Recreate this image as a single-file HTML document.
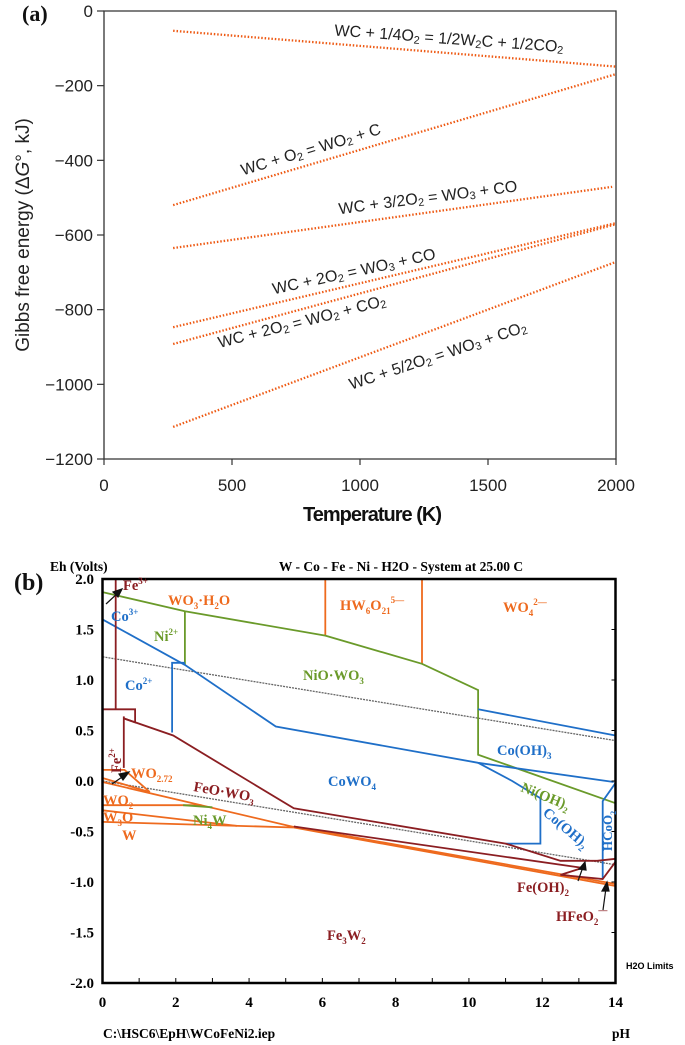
<!DOCTYPE html>
<html><head><meta charset="utf-8"><style>
html,body{margin:0;padding:0;background:#fff;}
svg{display:block;}
.sa{font-family:"Liberation Sans",sans-serif;}
.sb{font-family:"Liberation Serif",serif;font-weight:bold;}
</style></head><body>
<svg id="fig" width="685" height="1045" viewBox="0 0 685 1045" xmlns="http://www.w3.org/2000/svg">
  <g id="panelA"></g>
  <g id="panelB"></g>
</svg>
<script>
// ---------- Panel (a) data ----------
const reactionNames = ["WC + 1/4O2 = 1/2W2C + 1/2CO2","WC + O2 = WO2 + C","WC + 3/2O2 = WO3 + CO","WC + 2O2 = WO3 + CO","WC + 2O2 = WO2 + CO2","WC + 5/2O2 = WO3 + CO2"];
const startT = [270, 270, 270, 270, 270, 270];
const endT = [2000, 2000, 1985, 2000, 2000, 2000];
const startG = [-53, -520, -635, -847, -892, -1114];
const endG = [-149, -169, -471, -568, -571, -672];
const xTicksA = [0, 500, 1000, 1500, 2000];
const yTicksA = [0, -200, -400, -600, -800, -1000, -1200];

// ---------- Panel (b) data ----------
const xTicksB = [0, 2, 4, 6, 8, 10, 12, 14];
const yTicksB = [2.0, 1.5, 1.0, 0.5, 0.0, -0.5, -1.0, -1.5, -2.0];
const h2oUpper = [[0, 1.23], [14, 0.40]];
const h2oLower = [[0, 0.0], [14, -0.83]];
const feLines = [
  [[0.36, 2.0], [0.36, 0.71]],
  [[0, 0.71], [0.89, 0.71], [0.89, 0.58], [0.58, 0.62]],
  [[0.58, 0.64], [0.58, 0.13]],
  [[0.58, 0.62], [1.93, 0.45], [5.22, -0.27], [11.0, -0.62], [12.5, -0.79], [13.5, -0.79], [14, -0.77]],
  [[5.22, -0.45], [13.1, -0.86], [12.5, -0.93], [13.65, -0.97], [14, -0.8]]
];
const wLines = [
  [[6.08, 2.0], [6.08, 1.44]],
  [[8.72, 2.0], [8.72, 1.16]],
  [[0, 0.11], [0.6, 0.11], [1.29, -0.11]],
  [[0, 0.03], [1.29, -0.11]],
  [[0, -0.01], [5.22, -0.455]],
  [[0, -0.24], [2.7, -0.24]],
  [[0, -0.29], [3.67, -0.445]],
  [[0, -0.405], [5.22, -0.46]],
  [[5.22, -0.46], [14, -1.04]],
  [[5.22, -0.45], [14, -1.02]]
];
const niLines = [
  [[0, 1.87], [2.25, 1.68], [6.08, 1.44], [8.72, 1.16], [10.25, 0.90], [10.25, 0.26], [14, -0.22]],
  [[2.25, 1.68], [2.25, 1.15]],
  [[2.2, -0.24], [3.0, -0.26]]
];
const coLines = [
  [[0, 1.6], [2.25, 1.15], [4.73, 0.54], [10.25, 0.18], [13.95, -0.01]],
  [[2.25, 1.17], [1.9, 1.17], [1.9, 0.48]],
  [[10.25, 0.71], [14, 0.45]],
  [[10.25, 0.18], [11.18, 0.0], [11.95, -0.17], [11.95, -0.62], [11.0, -0.62]],
  [[13.65, -0.97], [13.65, -0.2], [14, -0.02]]
];

const NS = "http://www.w3.org/2000/svg";
function mk(parent, tag, attrs, text) {
  const e = document.createElementNS(NS, tag);
  for (const k in attrs) e.setAttribute(k, attrs[k]);
  if (text !== undefined) e.textContent = text;
  parent.appendChild(e);
  return e;
}

// ---------- Panel (a) ----------
const A = document.getElementById("panelA");
const ax0 = 104, ax1 = 616, ay0 = 11, ay1 = 459;
function xA(t) { return ax0 + (t / 2000) * (ax1 - ax0); }
function yA(g) { return ay0 + (-g / 1200) * (ay1 - ay0); }

let fr = mk(A, "path", {d:`M${ax0},${ay0} H${ax1} V${ay1} H${ax0} Z`, fill:"none", stroke:"#333", "stroke-width":1.3});


xTicksA.forEach(v => {
  const x = xA(v);
  let t = mk(A, "line", {x1:x, x2:x, y1:ay1, y2:ay1 + 6, stroke:"#333", "stroke-width":1.2});
  
  
  let l = mk(A, "text", {x:x, y:ay1 + 32, "text-anchor":"middle", "font-size":17, fill:"#222", class:"sa"}, String(v));
  
  
});
yTicksA.forEach(v => {
  const y = yA(v);
  let t = mk(A, "line", {x1:ax0 - 7, x2:ax0, y1:y, y2:y, stroke:"#333", "stroke-width":1.2});
  
  
  let l = mk(A, "text", {x:ax0 - 11, y:y + 6, "text-anchor":"end", "font-size":17, fill:"#222", class:"sa"}, v === 0 ? "0" : "\u2212" + Math.abs(v));
  
  
});
reactionNames.forEach((n, i) => {
  let ln = mk(A, "line", {x1:xA(startT[i]), y1:yA(startG[i]), x2:xA(endT[i]), y2:yA(endG[i]), stroke:"#ee5a14", "stroke-width":2.3, "stroke-dasharray":"1.5 1.9"});
  
  
});
</script>
<script>
(function(){
const A = document.getElementById("panelA");
A.insertAdjacentHTML("beforeend", `
<text class="sb" x="22" y="21" font-size="22" fill="#111">(a)</text>
<text class="sa" font-size="19" fill="#222" text-anchor="middle" transform="translate(29,235) rotate(-90)">Gibbs free energy (&#916;<tspan font-style="italic">G</tspan>°, kJ)</text>
<text class="sa" font-size="20" font-weight="bold" letter-spacing="-1" fill="#111" text-anchor="middle" x="372" y="521">Temperature (K)</text>
<g class="sa" font-size="16" fill="#222" text-anchor="middle" dominant-baseline="central">
<text transform="translate(449,39) rotate(4)">WC + 1/4O<tspan font-size="11" dy="4">2</tspan><tspan dy="-4"> = 1/2W</tspan><tspan font-size="11" dy="4">2</tspan><tspan dy="-4">C + 1/2CO</tspan><tspan font-size="11" dy="4">2</tspan></text>
<text transform="translate(311,150) rotate(-17)">WC + O<tspan font-size="11" dy="4">2</tspan><tspan dy="-4"> = WO</tspan><tspan font-size="11" dy="4">2</tspan><tspan dy="-4"> + C</tspan></text>
<text transform="translate(428,198) rotate(-7.5)">WC + 3/2O<tspan font-size="11" dy="4">2</tspan><tspan dy="-4"> = WO</tspan><tspan font-size="11" dy="4">3</tspan><tspan dy="-4"> + CO</tspan></text>
<text transform="translate(354,272) rotate(-12.5)">WC + 2O<tspan font-size="11" dy="4">2</tspan><tspan dy="-4"> = WO</tspan><tspan font-size="11" dy="4">3</tspan><tspan dy="-4"> + CO</tspan></text>
<text transform="translate(302,322) rotate(-14.5)">WC + 2O<tspan font-size="11" dy="4">2</tspan><tspan dy="-4"> = WO</tspan><tspan font-size="11" dy="4">2</tspan><tspan dy="-4"> + CO</tspan><tspan font-size="11" dy="4">2</tspan></text>
<text transform="translate(438,356) rotate(-18.5)">WC + 5/2O<tspan font-size="11" dy="4">2</tspan><tspan dy="-4"> = WO</tspan><tspan font-size="11" dy="4">3</tspan><tspan dy="-4"> + CO</tspan><tspan font-size="11" dy="4">2</tspan></text>
</g>`);
})();
</script>
<script>
(function(){
const B = document.getElementById("panelB");
const bx0 = 102.5, bx1 = 615.5;
function xB(p) { return bx0 + p * (bx1 - bx0) / 14; }
function yB(e) { return 781 - 101 * e; }
function pts(arr) { return arr.map(p => xB(p[0]).toFixed(1) + "," + yB(p[1]).toFixed(1)).join(" "); }

[h2oUpper, h2oLower].forEach((ln, i) => {
  let e = mk(B, "polyline", {points:pts(ln), fill:"none", stroke:"#666", "stroke-width":1.3, "stroke-dasharray":"2 1"});
  
  
});
function drawSet(set, color, name) {
  set.forEach(ln => {
    let e = mk(B, "polyline", {points:pts(ln), fill:"none", stroke:color, "stroke-width":1.8, "stroke-linejoin":"miter"});
    
    
  });
}
drawSet(wLines, "#ee6a1e", "tungsten-boundary");
drawSet(niLines, "#6a9a2a", "nickel-boundary");
drawSet(coLines, "#1f6fc8", "cobalt-boundary");
drawSet(feLines, "#8b1e22", "iron-boundary");

let fr = mk(B, "rect", {x:bx0, y:yB(2.0), width:bx1 - bx0, height:yB(-2.0) - yB(2.0), fill:"none", stroke:"#000", "stroke-width":2.5});



xTicksB.forEach(v => {
  const x = xB(v);
  let l = mk(B, "text", {x:x, y:1007, "text-anchor":"middle", "font-size":15, fill:"#000", class:"sb"}, String(v));
  
  
});
for (let p = 1; p < 14; p++) {
  let t = mk(B, "line", {x1:xB(p), x2:xB(p), y1:yB(-2.0), y2:yB(-2.0) - 5, stroke:"#000", "stroke-width":1});
  
  
}
yTicksB.forEach(v => {
  const y = yB(v);
  let l = mk(B, "text", {x:94, y:y + 5, "text-anchor":"end", "font-size":15, fill:"#000", class:"sb"}, v.toFixed(1));
  
  
  let t = mk(B, "line", {x1:bx1 - 4, x2:bx1, y1:y, y2:y, stroke:"#000", "stroke-width":1});
  
  
});
})();
</script>
<script>
(function(){
const B = document.getElementById("panelB");
B.insertAdjacentHTML("beforeend", `
<text class="sb" x="14" y="590" font-size="24" fill="#111" font-weight="bold">(b)</text>
<text class="sb" x="50" y="571" font-size="13.5">Eh (Volts)</text>
<text class="sb" x="401" y="571" font-size="13.5" text-anchor="middle">W - Co - Fe - Ni - H2O - System at 25.00 C</text>
<text class="sa" x="626" y="969" font-size="9" font-weight="bold">H2O Limits</text>
<text class="sb" x="103" y="1038" font-size="13.5">C:\\HSC6\\EpH\\WCoFeNi2.iep</text>
<text class="sb" x="612" y="1038" font-size="13.5">pH</text>
<g class="sb" font-size="14.5">
<text x="123" y="590" fill="#8b1e22">Fe<tspan font-size="9" dy="-6">3+</tspan></text>
<text x="168" y="605" fill="#ee6a1e">WO<tspan font-size="9" dy="4">3</tspan><tspan dy="-4">·H</tspan><tspan font-size="9" dy="4">2</tspan><tspan dy="-4">O</tspan></text>
<text x="340" y="610" fill="#ee6a1e">HW<tspan font-size="9" dy="4">6</tspan><tspan dy="-4">O</tspan><tspan font-size="9" dy="4">21</tspan><tspan font-size="9" dy="-11">5&#8212;</tspan></text>
<text x="503" y="612" fill="#ee6a1e">WO<tspan font-size="9" dy="4">4</tspan><tspan font-size="9" dy="-11">2&#8212;</tspan></text>
<text x="111" y="621" fill="#1f6fc8">Co<tspan font-size="9" dy="-6">3+</tspan></text>
<text x="154" y="641" fill="#6a9a2a">Ni<tspan font-size="9" dy="-6">2+</tspan></text>
<text x="125" y="690" fill="#1f6fc8">Co<tspan font-size="9" dy="-6">2+</tspan></text>
<text x="303" y="680" fill="#6a9a2a">NiO·WO<tspan font-size="9" dy="4">3</tspan></text>
<text transform="translate(121,773) rotate(-90)" fill="#8b1e22">Fe<tspan font-size="9" dy="-6">2+</tspan></text>
<text x="131" y="778" fill="#ee6a1e">WO<tspan font-size="9" dy="4">2.72</tspan></text>
<text transform="translate(193,791) rotate(10)" fill="#8b1e22">FeO·WO<tspan font-size="9" dy="4">3</tspan></text>
<text x="328" y="786" fill="#1f6fc8">CoWO<tspan font-size="9" dy="4">4</tspan></text>
<text x="497" y="755" fill="#1f6fc8">Co(OH)<tspan font-size="9" dy="4">3</tspan></text>
<text transform="translate(520,791) rotate(22)" fill="#6a9a2a">Ni(OH)<tspan font-size="9" dy="4">2</tspan></text>
<text transform="translate(542,814) rotate(40)" fill="#1f6fc8">Co(OH)<tspan font-size="9" dy="4">2</tspan></text>
<text transform="translate(612,851) rotate(-90)" fill="#1f6fc8" font-size="13">HCoO<tspan font-size="8" dy="4">2</tspan></text>
<text x="103" y="805" fill="#ee6a1e">WO<tspan font-size="9" dy="4">2</tspan></text>
<text x="103" y="822" fill="#ee6a1e">W<tspan font-size="9" dy="4">3</tspan><tspan dy="-4">O</tspan></text>
<text x="122" y="840" fill="#ee6a1e">W</text>
<text x="193" y="825" fill="#6a9a2a">Ni<tspan font-size="9" dy="4">4</tspan><tspan dy="-4">W</tspan></text>
<text x="517" y="892" fill="#8b1e22">Fe(OH)<tspan font-size="9" dy="4">2</tspan></text>
<text x="556" y="921" fill="#8b1e22">HFeO<tspan font-size="9" dy="4">2</tspan><tspan font-size="9" dy="-12">&#8212;</tspan></text>
<text x="327" y="940" fill="#8b1e22">Fe<tspan font-size="9" dy="4">3</tspan><tspan dy="-4">W</tspan><tspan font-size="9" dy="4">2</tspan></text>
</g>
<g stroke="#111" stroke-width="1.2" fill="#111">
<line x1="106" y1="604" x2="119" y2="592"/><polygon points="122,589 113,592 118,597"/>
<line x1="112" y1="784" x2="125" y2="775"/><polygon points="129,772 119,774 123,780"/>
<line x1="578" y1="881" x2="583" y2="867"/><polygon points="585,862 579,869 586,870"/>
<line x1="603" y1="910" x2="606" y2="888"/><polygon points="607,882 602,891 609,891"/>
</g>`);
})();
</script>
</body></html>
